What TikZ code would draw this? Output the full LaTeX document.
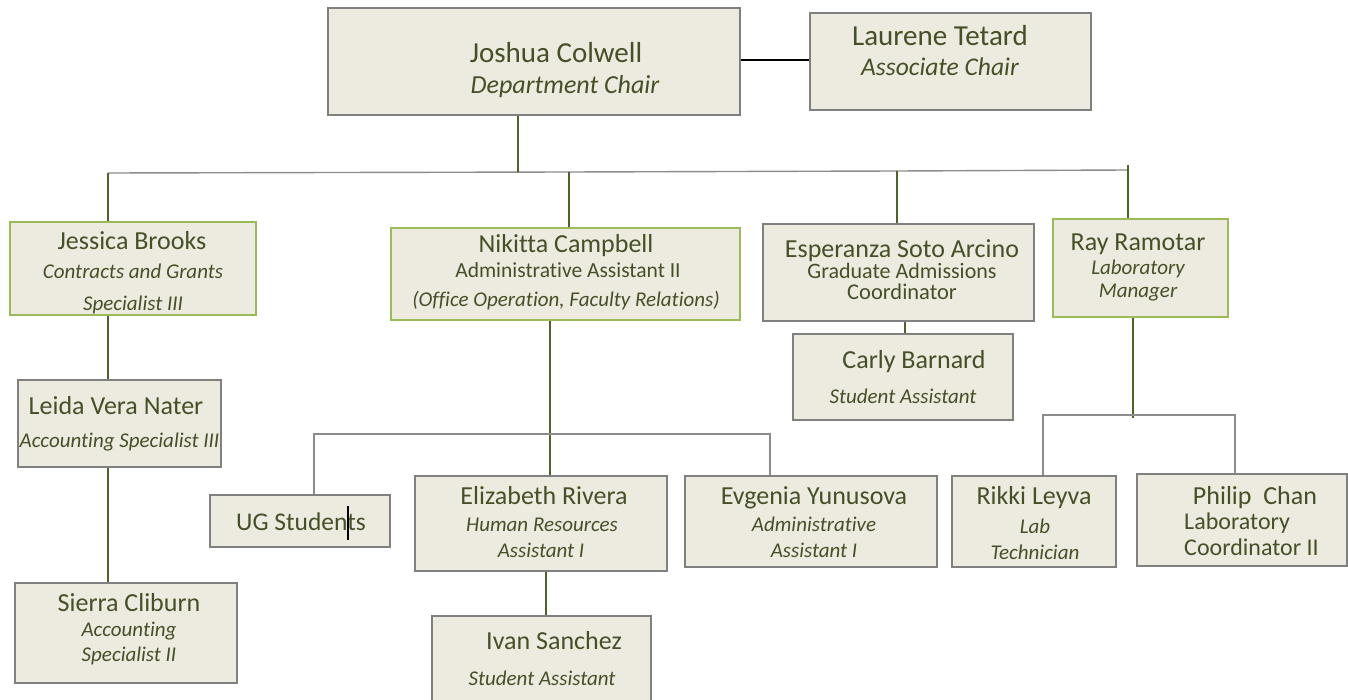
\documentclass[tikz,border=0pt]{standalone}
\usepackage{fontspec}
\setmainfont{Carlito}[Ligatures=CommonOff]
\definecolor{boxfill}{RGB}{237,234,224}
\definecolor{grayline}{RGB}{128,128,128}
\definecolor{greenline}{RGB}{155,187,89}
\definecolor{olive}{RGB}{79,98,40}
\definecolor{txtc}{RGB}{70,80,38}
\definecolor{busc}{RGB}{140,140,140}
\newcommand\fs[1]{\fontsize{#1}{#1}\selectfont}
\tikzset{
  gbox/.style={draw=grayline, fill=boxfill, line width=1.4pt, inner sep=0pt},
  grbox/.style={draw=greenline, fill=boxfill, line width=1.4pt, inner sep=0pt},
  txt/.style={anchor=base, text=txtc, inner sep=0pt},
  ltxt/.style={anchor=base west, text=txtc, inner sep=0pt},
  vline/.style={draw=olive, line width=1.2pt},
  hline/.style={draw=busc, line width=1.4pt},
}
\begin{document}
\begin{tikzpicture}[x=1pt,y=-1pt]
\useasboundingbox[fill=white] (0,0) rectangle (1348,700);
% boxes
\node[gbox, minimum width=412pt, minimum height=107pt] (joshua) at (534,61.5) {};
\node[gbox, minimum width=281pt, minimum height=97pt] (laurene) at (950.5,61.5) {};
\node[grbox, minimum width=246pt, minimum height=93pt] (jessica) at (133,268.5) {};
\node[grbox, minimum width=349pt, minimum height=92pt] (nikitta) at (565.5,274) {};
\node[gbox, minimum width=271pt, minimum height=97pt] (esperanza) at (898.5,272.5) {};
\node[grbox, minimum width=175pt, minimum height=98pt] (ray) at (1140.5,268) {};
\node[gbox, minimum width=220pt, minimum height=86pt] (carly) at (903,377) {};
\node[gbox, minimum width=203pt, minimum height=87pt] (leida) at (119.5,423.5) {};
\node[gbox, minimum width=222pt, minimum height=100pt] (sierra) at (126,633) {};
\node[gbox, minimum width=180pt, minimum height=52pt] (ug) at (300,521) {};
\node[gbox, minimum width=252pt, minimum height=95pt] (elizabeth) at (541,523.5) {};
\node[gbox, minimum width=252pt, minimum height=91pt] (evgenia) at (811,521.5) {};
\node[gbox, minimum width=219pt, minimum height=90pt] (ivan) at (541.5,661) {};
\node[gbox, minimum width=164pt, minimum height=91pt] (rikki) at (1034,521.5) {};
\node[gbox, minimum width=210pt, minimum height=92pt] (philip) at (1242,520) {};
% bus coordinates
\coordinate (tj) at (518,172);
\coordinate (t1) at (108,173);
\coordinate (t2) at (569,172);
\coordinate (t3) at (897,171);
\coordinate (t4) at (1128,170);
\coordinate (t4top) at (1128,165);
\coordinate (lx) at (108,0);
\coordinate (nx) at (550,0);
\coordinate (nb1) at (314,434);
\coordinate (nb2) at (770,434);
\coordinate (ex) at (546,0);
\coordinate (cx) at (905,0);
\coordinate (rx) at (1133,418);
\coordinate (rb1) at (1043,415);
\coordinate (rb2) at (1235,415);
% connectors
\draw[black, line width=1.4pt] (joshua.east |- 0,60) -- (laurene.west |- 0,60);
\draw[hline] (t1) -- (t2) -- (t3) -- (t4);
\draw[vline] (tj |- joshua.south) -- (tj);
\draw[vline] (t1) -- (t1 |- jessica.north);
\draw[vline] (t2) -- (t2 |- nikitta.north);
\draw[vline] (t3) -- (t3 |- esperanza.north);
\draw[vline] (t4top) -- (t4 |- ray.north);
\draw[vline] (lx |- jessica.south) -- (lx |- leida.north);
\draw[vline] (lx |- leida.south) -- (lx |- sierra.north);
\draw[vline] (nx |- nikitta.south) -- (nx |- elizabeth.north);
\draw[hline] (nb1 |- ug.north) -- (nb1) -- (nb2) -- (nb2 |- evgenia.north);
\draw[vline] (ex |- elizabeth.south) -- (ex |- ivan.north);
\draw[vline] (cx |- esperanza.south) -- (cx |- carly.north);
\draw[vline] (rx |- ray.south) -- (rx);
\draw[hline] (rb1 |- rikki.north) -- (rb1) -- (rb2) -- (rb2 |- philip.north);
% texts
\node[txt] (joshua1) at (556,62.5) {\fs{29}Joshua Colwell};
\node[txt] (joshua2) at (565,93.5) {\fs{26}\itshape Department Chair};
\node[txt] (laurene1) at (940,46) {\fs{29}Laurene Tetard};
\node[txt] (laurene2) at (940,76) {\fs{25.5}\itshape Associate Chair};
\node[txt] (jessica1) at (132,250) {\fs{26}Jessica Brooks};
\node[txt] (jessica2) at (133,279) {\fs{21}\itshape Contracts and Grants};
\node[txt] (jessica3) at (133,311) {\fs{21}\itshape Specialist III};
\node[txt] (nikitta1) at (566,253) {\fs{26}Nikitta Campbell};
\node[txt] (nikitta2) at (568,278) {\fs{21.5}Administrative Assistant II};
\node[txt] (nikitta3) at (566,307) {\fs{21}\itshape (Office Operation, Faculty Relations)};
\node[txt] (esperanza1) at (902,258) {\fs{26}Esperanza Soto Arcino};
\node[txt] (esperanza2) at (902,279) {\fs{22}Graduate Admissions};
\node[txt] (esperanza3) at (902,300) {\fs{22.5}Coordinator};
\node[txt] (ray1) at (1138,251) {\fs{26}Ray Ramotar};
\node[txt] (ray2) at (1138,275) {\fs{21}\itshape Laboratory};
\node[txt] (ray3) at (1138,298) {\fs{21}\itshape Manager};
\node[txt] (carly1) at (914,368) {\fs{26}Carly Barnard};
\node[txt] (carly2) at (903,403) {\fs{21}\itshape Student Assistant};
\node[txt] (leida1) at (116,414) {\fs{26}Leida Vera Nater};
\node[txt] (leida2) at (119.5,447) {\fs{21}\itshape Accounting Specialist III};
\node[txt] (sierra1) at (129,611) {\fs{26}Sierra Cliburn};
\node[txt] (sierra2) at (129,636) {\fs{21}\itshape Accounting};
\node[txt] (sierra3) at (129,661) {\fs{21}\itshape Specialist II};
\node[txt] (ug1) at (301,530) {\fs{25.5}UG Students};
\draw[black, line width=1.2pt] (348,506) -- (348,540);
\node[txt] (elizabeth1) at (544,504) {\fs{26}Elizabeth Rivera};
\node[txt] (elizabeth2) at (542,531) {\fs{21}\itshape Human Resources};
\node[txt] (elizabeth3) at (541,557) {\fs{21}\itshape Assistant I};
\node[txt] (evgenia1) at (814,504) {\fs{26}Evgenia Yunusova};
\node[txt] (evgenia2) at (814,531) {\fs{21}\itshape Administrative};
\node[txt] (evgenia3) at (814,557) {\fs{21}\itshape Assistant I};
\node[txt] (ivan1) at (554,649) {\fs{26}Ivan Sanchez};
\node[txt] (ivan2) at (542,685) {\fs{21}\itshape Student Assistant};
\node[txt] (rikki1) at (1034,504) {\fs{26}Rikki Leyva};
\node[txt] (rikki2) at (1035,533) {\fs{21}\itshape Lab};
\node[txt] (rikki3) at (1035,559) {\fs{21}\itshape Technician};
\node[txt] (philip1) at (1255,504) {\fs{26}Philip\ \ Chan};
\node[ltxt] (philip2) at (1184,529) {\fs{24}Laboratory};
\node[ltxt] (philip3) at (1184,555) {\fs{24}Coordinator II};
\end{tikzpicture}
\end{document}
